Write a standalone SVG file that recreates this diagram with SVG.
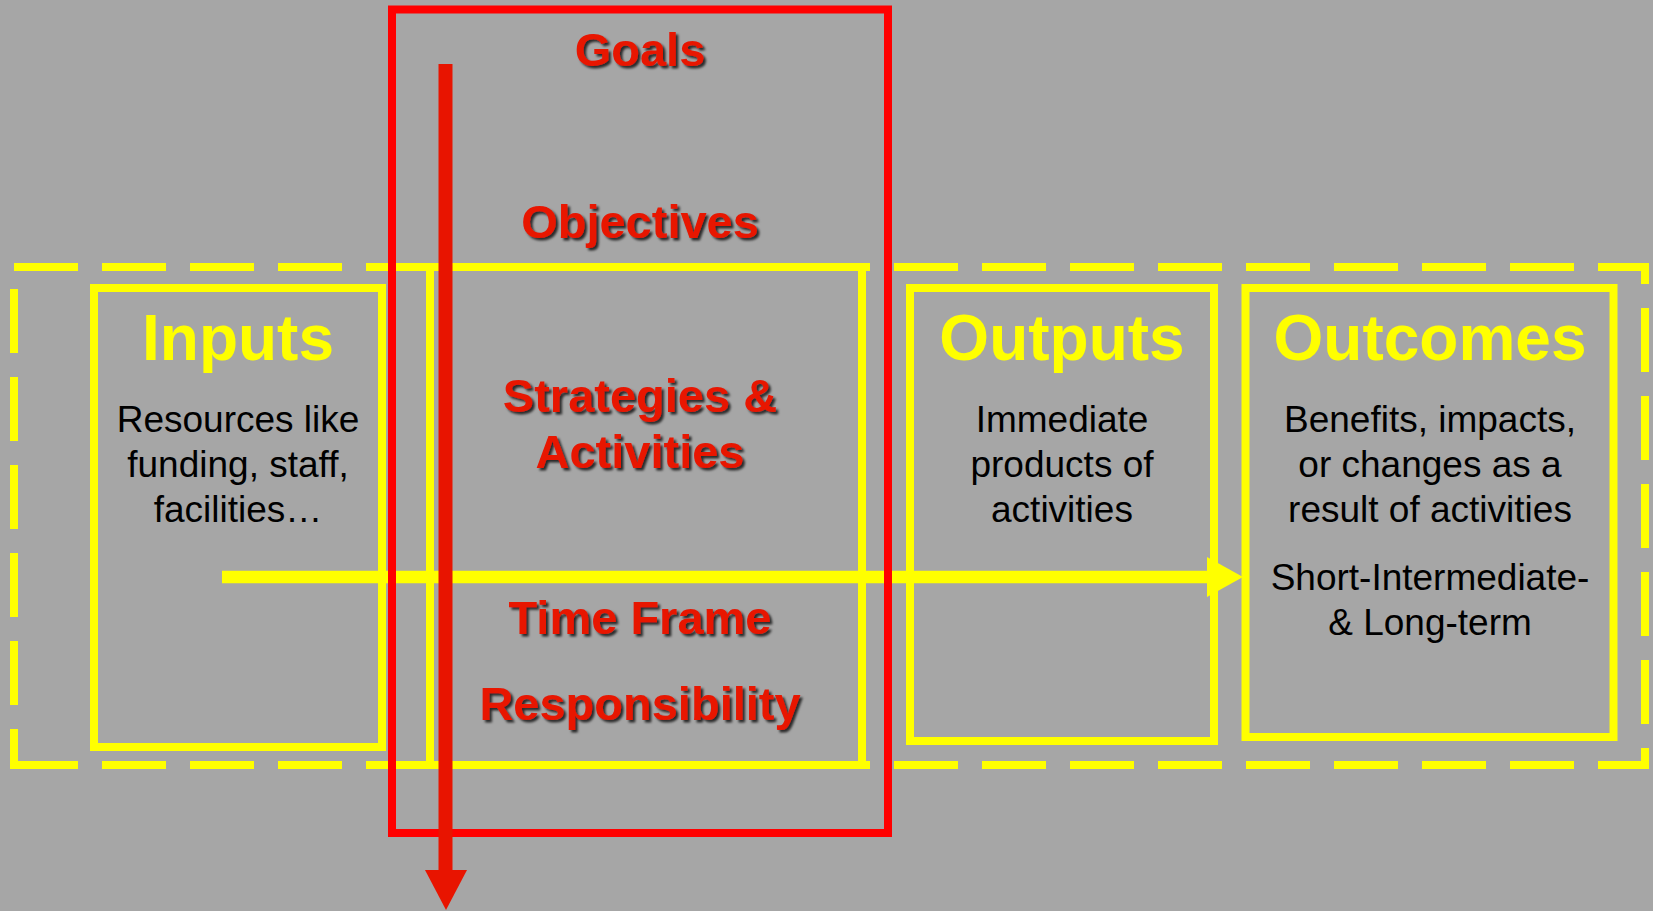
<svg xmlns="http://www.w3.org/2000/svg" width="1653" height="911" viewBox="0 0 1653 911">
<style>
.ybox{fill:none;stroke:#FFFF00;stroke-width:8}
.dash{fill:none;stroke:#FFFF00;stroke-width:8;stroke-dasharray:64 24}
.title{font-family:"Liberation Sans",Arial,sans-serif;font-weight:bold;font-size:64px;fill:#FFFF00;text-anchor:middle}
.body{font-family:"Liberation Sans",Arial,sans-serif;font-size:37px;fill:#000;text-anchor:middle}
.red{font-family:"Liberation Sans",Arial,sans-serif;font-weight:bold;font-size:47px;fill:#E81400;text-anchor:middle;filter:url(#sh)}
</style>
<defs>
<filter id="sh" x="-10%" y="-30%" width="120%" height="160%">
<feDropShadow dx="2.5" dy="2.5" stdDeviation="1" flood-color="#000" flood-opacity="0.75"/>
</filter>
</defs>
<rect width="1653" height="911" fill="#A6A6A6"/>
<g id="frame">
<path class="dash" d="M14,267 H1645 V765 H14"/>
<path class="dash" d="M14,769 V267" stroke-dashoffset="24"/>
</g>
<g id="strategies-box"><rect class="ybox" x="430" y="267" width="432" height="498"/></g>
<g id="inputs">
<rect class="ybox" x="94" y="288" width="288" height="459"/>
<text class="title" x="238" y="360">Inputs</text>
<text class="body" x="238" y="432">Resources like</text>
<text class="body" x="238" y="477">funding, staff,</text>
<text class="body" x="238" y="522">facilities…</text>
</g>
<g id="outputs">
<rect class="ybox" x="910" y="288" width="304" height="453"/>
<text class="title" x="1062" y="360">Outputs</text>
<text class="body" x="1062" y="432">Immediate</text>
<text class="body" x="1062" y="477">products of</text>
<text class="body" x="1062" y="522">activities</text>
</g>
<g id="outcomes">
<rect class="ybox" x="1245.5" y="288" width="368" height="449"/>
<text class="title" x="1430" y="360">Outcomes</text>
<text class="body" x="1430" y="432">Benefits, impacts,</text>
<text class="body" x="1430" y="477">or changes as a</text>
<text class="body" x="1430" y="522">result of activities</text>
<text class="body" x="1430" y="590">Short-Intermediate-</text>
<text class="body" x="1430" y="635">&amp; Long-term</text>
</g>
<g id="connectors">
<line x1="222" y1="577" x2="1210" y2="577" stroke="#FFFF00" stroke-width="12.6"/>
<polygon points="1207,557 1243,577 1207,597" fill="#FFFF00"/>
</g>
<g id="goals-box">
<rect x="392" y="9.5" width="496" height="823.5" fill="none" stroke="#FF0000" stroke-width="8"/>
</g>
<g id="connectors-red">
<rect x="438.5" y="64" width="14" height="808" fill="#E81400"/>
<polygon points="425,870 467,870 446,910" fill="#E81400"/>
</g>
<g id="labels">
<text class="red" x="640" y="66">Goals</text>
<text class="red" x="640" y="238">Objectives</text>
<text class="red" x="640" y="412">Strategies &amp;</text>
<text class="red" x="640" y="468">Activities</text>
<text class="red" x="640" y="634">Time Frame</text>
<text class="red" x="640" y="720">Responsibility</text>
</g>
</svg>
